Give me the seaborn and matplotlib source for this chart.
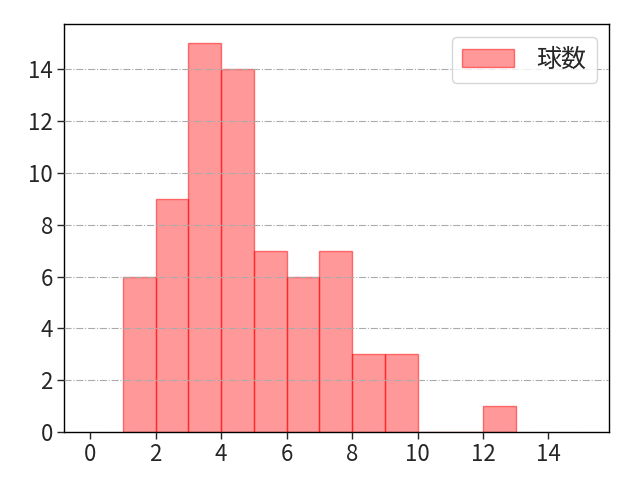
import matplotlib
matplotlib.use("Agg")
import matplotlib.pyplot as plt
import seaborn as sns
import numpy as np

pitches = [1, 2, 3, 4, 5, 6, 7, 8, 9, 10, 11, 12]
counts = [6, 9, 15, 14, 7, 6, 7, 3, 3, 0, 0, 1]
bin_edges = list(range(1, 14))
xticks = [0, 2, 4, 6, 8, 10, 12, 14]
yticks = [0, 2, 4, 6, 8, 10, 12, 14]

sns.set_style("white")
plt.rcParams['font.family'] = ['Noto Sans CJK JP', 'DejaVu Sans']

fig, ax = plt.subplots(figsize=(6.4, 4.8), dpi=100)
sns.histplot(x=[p + 0.5 for p in pitches], weights=counts, bins=bin_edges, ax=ax,
             color=(1, 0, 0, 0.4), edgecolor=(1, 0, 0, 0.5), linewidth=1,
             label="球数", alpha=None)
ax.set_xlim(-0.8, 15.85)
ax.set_ylim(0, 15.75)
ax.set_xticks(xticks)
ax.set_yticks(yticks)
ax.tick_params(labelsize=16, length=5, width=1, left=True, bottom=True, pad=3)
ax.set_xlabel("")
ax.set_ylabel("")
ax.set_axisbelow(False)
ax.yaxis.grid(True, linestyle='-.', color='#aaaaaa', linewidth=0.8)
for s in ax.spines.values():
    s.set_color('black')
    s.set_linewidth(1)
ax.legend(loc='upper right', fontsize=18, frameon=True, handlelength=2.1,
          handletextpad=0.9, borderaxespad=0.5)
fig.subplots_adjust(left=0.1, right=0.9516, top=0.95, bottom=0.1)
fig.savefig("out.png", dpi=100)
